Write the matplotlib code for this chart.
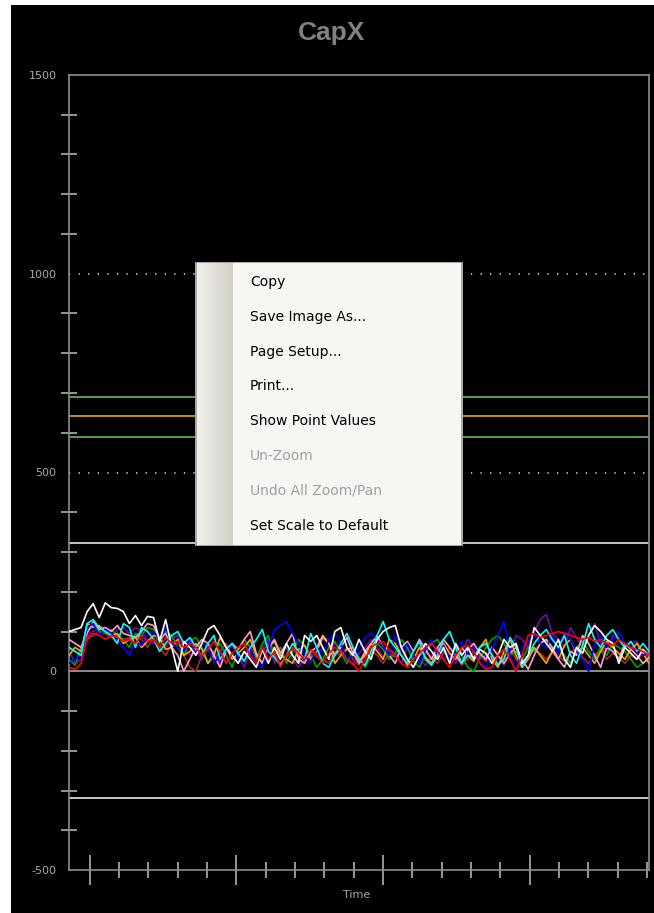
import numpy as np
import matplotlib
matplotlib.use("Agg")
import matplotlib.pyplot as plt
from matplotlib.patches import Rectangle
from matplotlib.colors import LinearSegmentedColormap

# ---------------- data ----------------
title = "CapX"
x_label = "Time"
y_ticklabels = [-500, 0, 500, 1000, 1500]
x_major = [0, 5, 10, 15]
x_minor = list(range(0, 20))
upper_spec = 690
target = 641
lower_spec = 590
ucl = 322
lcl = -320

white = [100, 105, 110, 150, 170, 135, 172, 160, 158, 150,
         120, 140, 115, 138, 135, 75, 130, 60, 0, 75,
         60, 40, 70, 105, 115, 90, 60, 40, 20, 50,
         30, 10, 55, 20, 60, 30, 70, 40, 20, 90,
         75, 90, 60, 30, 100, 110, 60, 40, 80, 50,
         30, 80, 100, 110, 115, 60, 30, 10, 40, 70,
         50, 30, 60, 20, 70, 40, 60, 30, 55, 45,
         20, 40, 80, 60, 70, 20, 40, 110, 90, 70,
         50, 80, 30, 10, 60, 45, 90, 115, 100, 80,
         70, 20, 60, 45, 30, 55, 40]
cyan = [60, 50, 40, 120, 130, 110, 100, 90, 70, 120,
        110, 60, 110, 100, 80, 50, 70, 90, 100, 70,
        85, 60, 40, 70, 90, 30, 55, 70, 45, 25,
        60, 80, 105, 50, 35, 15, 40, 70, 50, 30,
        95, 60, 20, 10, 40, 70, 95, 60, 30, 15,
        50, 90, 125, 80, 60, 40, 20, 50, 75, 30,
        15, 40, 80, 100, 60, 20, 40, 35, 60, 70,
        40, 15, 30, 85, 60, 10, 40, 70, 90, 105,
        80, 60, 90, 40, 20, 65, 120, 80, 60, 90,
        105, 80, 60, 75, 50, 70, 50]
blue = [20, 30, 40, 110, 120, 90, 105, 95, 80, 60,
        40, 75, 65, 90, 100, 80, 110, 70, 60, 50,
        80, 40, 70, 60, 20, 40, 50, 70, 30, 45,
        60, 20, 10, 55, 105, 115, 125, 95, 70, 40,
        20, 60, 45, 80, 95, 70, 30, 40, 60, 85,
        95, 80, 60, 40, 90, 50, 70, 40, 20, 55,
        80, 40, 65, 30, 50, 75, 40, 60, 20, 10,
        55, 90, 125, 40, 0, 60, 75, 95, 70, 60,
        90, 40, 100, 80, 50, 30, 0, 70, 90, 60,
        80, 100, 70, 60, 50, 40, 45]
red = [10, 5, 20, 85, 95, 90, 80, 90, 85, 75,
       80, 70, 90, 75, 80, 60, 85, 70, 75, 60,
       70, 60, 40, 55, 75, 50, 20, 45, 60, 70,
       40, 20, 60, 30, 50, 10, 40, 60, 45, 30,
       55, 40, 20, 45, 60, 50, 30, 20, 0, 30,
       60, 70, 75, 55, 40, 20, 10, 30, 45, 60,
       70, 50, 30, 10, 40, 60, 65, 50, 20, 5,
       10, 40, 55, 30, 0, 40, 90, 95, 85, 90,
       95, 100, 95, 90, 85, 80, 85, 75, 80, 70,
       65, 80, 70, 60, 55, 50, 40]
green = [30, 15, 60, 100, 115, 100, 95, 105, 90, 80,
         60, 95, 90, 110, 105, 70, 100, 90, 60, 40,
         75, 85, 60, 20, 50, 70, 40, 10, 55, 80,
         60, 30, 70, 90, 40, 60, 20, 50, 80, 65,
         40, 10, 30, 60, 75, 45, 20, 50, 35, 10,
         40, 70, 55, 30, 45, 80, 60, 25, 10, 45,
         70, 80, 50, 30, 60, 40, 10, 0, 35, 60,
         80, 90, 70, 40, 50, 30, 60, 50, 70, 80,
         55, 60, 40, 20, 60, 75, 50, 30, 60, 40,
         70, 60, 50, 30, 10, 20, 30]
orange = [40, 60, 50, 120, 110, 115, 100, 90, 95, 70,
          80, 85, 60, 75, 90, 85, 55, 60, 80, 40,
          50, 70, 55, 20, 40, 85, 60, 30, 45, 60,
          80, 40, 20, 60, 75, 40, 30, 20, 55, 65,
          30, 50, 85, 70, 20, 40, 55, 60, 25, 40,
          70, 50, 30, 80, 70, 40, 15, 30, 60, 35,
          20, 50, 70, 45, 30, 60, 40, 25, 60, 80,
          30, 10, 50, 80, 40, 10, 30, 60, 40, 20,
          50, 30, 65, 80, 45, 60, 40, 20, 50, 75,
          60, 45, 30, 55, 70, 45, 20]
pink = [80, 70, 60, 95, 125, 105, 110, 100, 115, 95,
        90, 85, 100, 120, 115, 80, 95, 60, 40, 0,
        30, 60, 80, 70, 40, 10, 50, 70, 55, 80,
        100, 45, 20, 60, 80, 45, 70, 95, 30, 20,
        50, 60, 90, 70, 40, 60, 85, 45, 20, 50,
        70, 90, 60, 40, 20, 60, 75, 50, 80, 55,
        30, 60, 80, 60, 40, 20, 55, 70, 45, 30,
        60, 40, 20, 45, 60, 30, 5, 40, 70, 80,
        60, 30, 10, 50, 40, 90, 70, 40, 10, 60,
        50, 30, 70, 55, 40, 20, 35]
purple = [50, 20, 30, 90, 100, 110, 100, 85, 105, 110,
          95, 110, 100, 80, 70, 90, 60, 80, 90, 60,
          40, 55, 30, 60, 45, 20, 60, 70, 40, 10,
          50, 35, 60, 80, 20, 45, 60, 30, 10, 30,
          50, 35, 60, 40, 70, 55, 30, 15, 45, 60,
          80, 60, 35, 55, 45, 20, 60, 40, 30, 15,
          40, 60, 30, 45, 20, 50, 80, 60, 30, 40,
          60, 40, 15, 50, 90, 80, 60, 100, 130, 143,
          95, 80, 60, 110, 85, 60, 90, 120, 70, 50,
          90, 80, 60, 70, 75, 50, 40]
brown = [60, 50, 40, 80, 90, 100, 95, 85, 90, 80,
         85, 90, 80, 60, 85, 60, 40, 70, 80, 40,
         10, 0, 40, 55, 30, 50, 70, 40, 20, 45,
         60, 30, 50, 70, 40, 20, 35, 55, 40, 25,
         40, 55, 30, 20, 50, 40, 60, 30, 15, 40,
         55, 40, 20, 45, 35, 60, 30, 10, 40, 50,
         35, 20, 45, 60, 40, 15, 30, 50, 40, 25,
         45, 20, 35, 55, 30, 10, 40, 55, 45, 30,
         50, 40, 25, 45, 60, 35, 20, 40, 55, 30,
         45, 35, 20, 40, 30, 45, 35]

series = [brown, purple, green, orange, pink, blue, cyan, white, red]
colors = ["#a52a2a", "#6a0dad", "#00a000", "#ffa500", "#ff9ec8",
          "#0000ff", "#00ffff", "#ffffff", "#ff0000"]

menu_items = ["Copy", "Save Image As...", "Page Setup...", "Print...",
              "Show Point Values", "Un-Zoom", "Undo All Zoom/Pan",
              "Set Scale to Default"]
menu_enabled = [True, True, True, True, True, False, False, True]

# ---------------- figure ----------------
W, H = 654, 913
fig = plt.figure(figsize=(W / 100, H / 100), dpi=100)
fig.patch.set_facecolor("white")
fig.add_artist(Rectangle((11 / W, 0), 1 - 11 / W, 1 - 5 / H,
                         transform=fig.transFigure, facecolor="black",
                         edgecolor="none", zorder=0))

axl, axr, axt, axb = 69, 649, 75, 870
ax = fig.add_axes([axl / W, 1 - axb / H, (axr - axl) / W, (axb - axt) / H])
ax.set_facecolor("black")
gray = "#8c8c8c"
for s in ax.spines.values():
    s.set_color(gray)
    s.set_linewidth(1.2)

xmin, xmax = -0.71, 19.07
n = len(white)
t = np.linspace(xmin, xmax, n)

ax.set_xlim(xmin, xmax)
ax.set_ylim(-500, 1500)

# reference lines
ax.axhline(0, color=gray, lw=1.4, zorder=1)
for v in (500, 1000):
    ax.axhline(v, color="#c8c8c8", lw=1.3, linestyle=(0, (0.7, 4.6)), zorder=1)
ax.axhline(upper_spec, color="#66b866", lw=1.2, zorder=2)
ax.axhline(lower_spec, color="#66b866", lw=1.2, zorder=2)
ax.axhline(target, color="#e0b000", lw=1.2, zorder=2)
ax.axhline(ucl, color="#e8e8e8", lw=1.2, zorder=2)
ax.axhline(lcl, color="#e8e8e8", lw=1.2, zorder=2)

for vals, c in zip(series, colors):
    ax.plot(t, vals, color=c, lw=1.2, zorder=3)

# y ticks
ax.set_yticks(y_ticklabels)
ax.set_yticklabels([str(v) for v in y_ticklabels])
ax.set_yticks([v for v in range(-400, 1500, 100) if v % 500 != 0], minor=True)
ax.tick_params(axis="y", which="major", length=0, pad=9, labelsize=8,
               labelcolor="#a8a8a8")
ax.tick_params(axis="y", which="minor", direction="inout", length=11,
               width=1.2, color="#b0b0b0")

# x ticks
ax.set_xticks(x_major)
ax.set_xticklabels([])
ax.set_xticks([v for v in x_minor if v not in x_major], minor=True)
ax.tick_params(axis="x", which="major", direction="inout", length=22,
               width=1.2, color="#b0b0b0")
ax.tick_params(axis="x", which="minor", direction="inout", length=12,
               width=1.2, color="#b0b0b0")

fig.text(357 / W, 1 - 895 / H, x_label, color="#a8a8a8", fontsize=8,
         ha="center", va="center")
fig.text(332 / W, 1 - 33 / H, title, color="#808080", fontsize=19,
         fontweight="bold", ha="center", va="center",
         family="Liberation Sans")

# ---------------- context menu ----------------
ml, mt, mr, mb = 195, 262, 463, 546
mw, mh = mr - ml, mb - mt
max_ = fig.add_axes([ml / W, 1 - mb / H, mw / W, mh / H])
max_.set_xlim(0, mw)
max_.set_ylim(mh, 0)
max_.axis("off")
max_.add_patch(Rectangle((0, 0), mw, mh, facecolor="#f7f6f3",
                         edgecolor="none", zorder=0))
grad = np.linspace(0, 1, 64)[None, :]
cmap = LinearSegmentedColormap.from_list("strip", ["#f4f3ef", "#e2e0da", "#d2cfc6"])
max_.imshow(grad, extent=(0, 38, mh, 0), cmap=cmap, aspect="auto", zorder=1)
max_.add_patch(Rectangle((0.5, 0.5), mw - 1, mh - 1, facecolor="none",
                         edgecolor="#9a9a9a", lw=1.2, zorder=3))
for i, (label, en) in enumerate(zip(menu_items, menu_enabled)):
    max_.text(55, 20 + i * 34.8, label, color="black" if en else "#a0a0a0",
              fontsize=10, ha="left", va="center", family="DejaVu Sans",
              zorder=4)

fig.savefig("out.png", dpi=100, facecolor=fig.get_facecolor())
